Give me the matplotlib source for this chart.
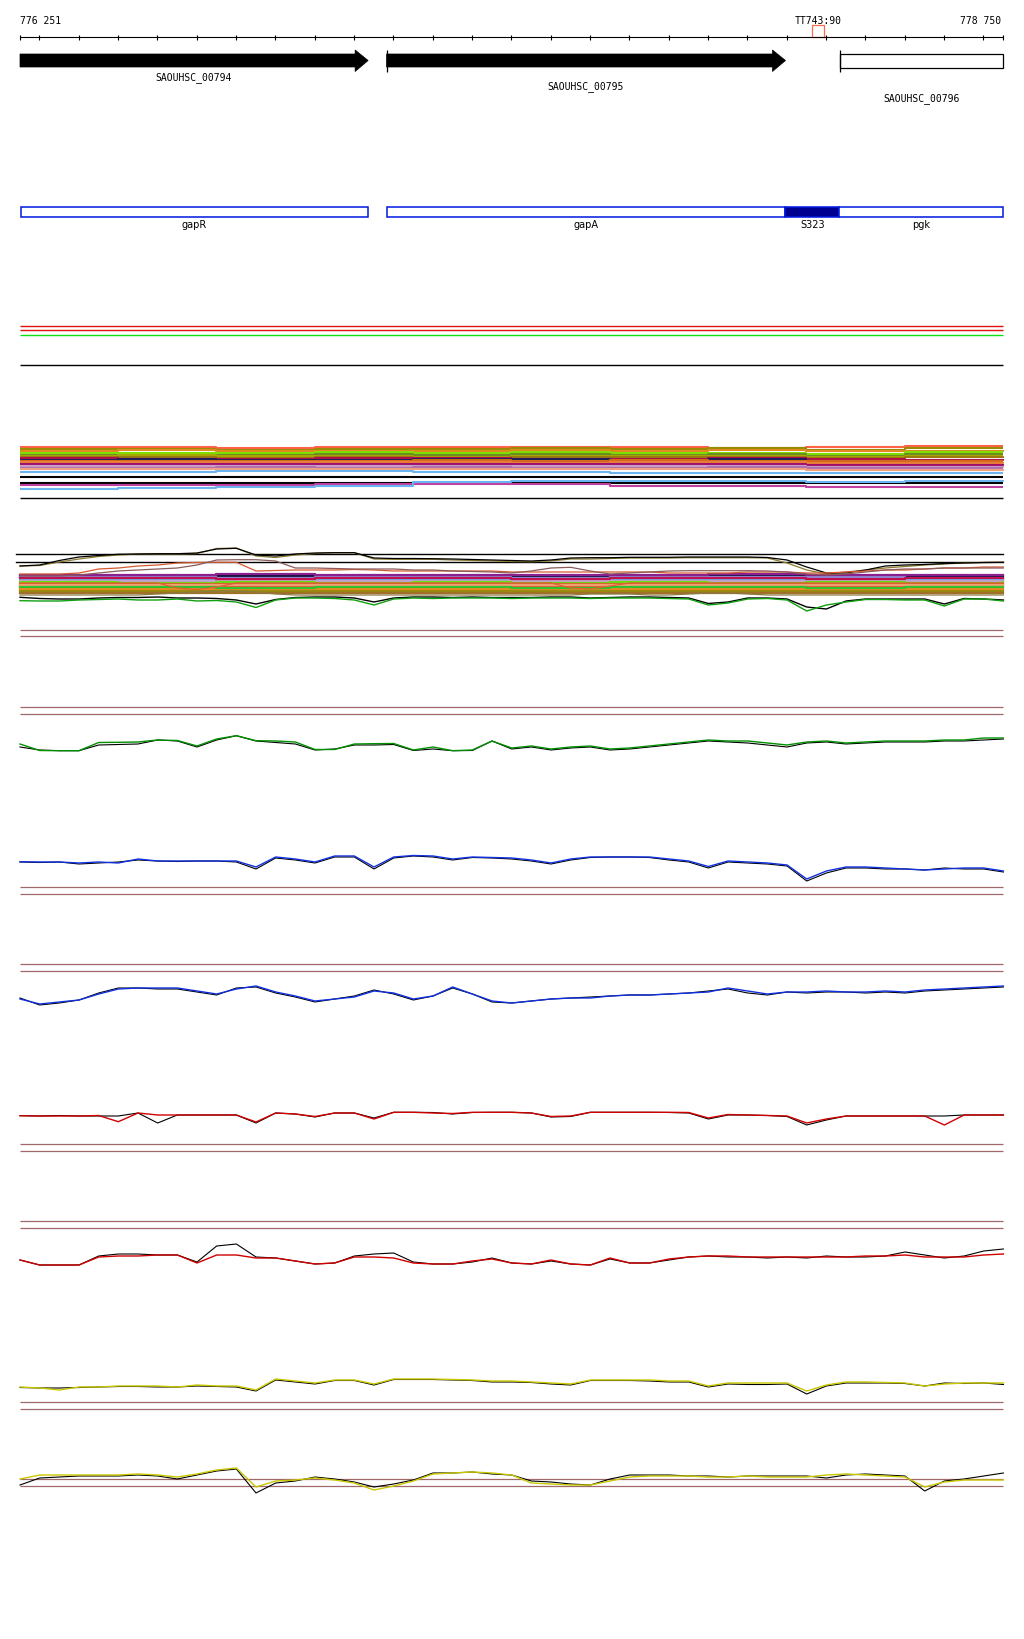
import numpy as np
import matplotlib
matplotlib.use("Agg")
import matplotlib.pyplot as plt
from matplotlib.patches import Rectangle, Polygon

# ---- genomic window -------------------------------------------------------
view_start = 776251
view_end = 778750
ruler_ticks = list(range(776300, 778750, 100))
probe_name = "TT743:90"
probe_pos = 778280

# ---- genes ----------------------------------------------------------------
gene_names = ["SAOUHSC_00794", "SAOUHSC_00795", "SAOUHSC_00796"]
gene_starts = [776251, 777183, 778335]
gene_ends = [777136, 778197, 778750]
gene_filled = [True, True, False]
gene_start_mark = [False, True, True]

# ---- annotation features --------------------------------------------------
feat_names = ["gapR", "gapA", "S323", "pgk"]
feat_starts = [776253, 777185, 778196, 778334]
feat_ends = [777135, 778196, 778334, 778750]
feat_filled = [False, False, True, False]

# ---- dense read band (step levels every 250 bp) ---------------------------
band_pos = [776251, 776500, 776750, 777000, 777250, 777500, 777750,
            778000, 778250, 778500, 778750]
band_colors = ["#ff6347", "#9a8c00", "#e08a20", "#7fe000", "#6b8e23",
               "#a8a800", "#9c7a10", "#b0104a", "#1c1c5c", "#d2691e",
               "#e8803a", "#a0106a", "#c8a0c8", "#b070b0", "#f0a080",
               "#6cb4f0", "#000000", "#000000", "#c040a0", "#6cb4f0"]
band_tomato = [52, 52, 51, 52, 52, 52, 52, 51, 52, 53, 53]
band_olive = [50, 50, 49, 50, 50, 51, 50, 51, 49, 51, 51]
band_orange = [48, 49, 48, 48, 48, 49, 48, 49, 48, 48, 49]
band_lime = [46, 46, 46, 47, 46, 47, 46, 46, 45, 47, 47]
band_drab = [44, 44, 44, 45, 44, 45, 44, 45, 43, 45, 45]
band_yolive = [43, 44, 43, 43, 42, 43, 43, 43, 42, 43, 43]
band_gold = [42, 42, 41, 42, 41, 42, 42, 42, 41, 42, 41]
band_crimson = [41, 40, 40, 41, 41, 40, 40, 41, 40, 39, 40]
band_navy = [39, 40, 39, 39, 40, 40, 39, 40, 38, 36, 36]
band_sienna = [38, 38, 38, 38, 39, 38, 39, 38, 38, 38, 38]
band_lorange = [37, 37, 37, 37, 37, 36, 37, 37, 36, 36, 37]
band_magcrim = [35, 35, 35, 35, 35, 35, 35, 35, 34, 34, 35]
band_lavender = [33, 33, 33, 33, 33, 33, 33, 33, 32, 32, 33]
band_orchid = [31, 31, 32, 31, 32, 31, 31, 32, 31, 31, 31]
band_salmon = [30, 30, 30, 30, 30, 30, 30, 30, 29, 29, 30]
band_lblue = [27, 27, 28, 28, 27, 27, 26, 26, 26, 26, 26]
band_black1 = [22] * 11
band_black2 = [16] * 11
band_magenta = [14, 14, 14, 15, 15, 15, 13, 13, 12, 12, 12]
band_lblue2 = [10, 11, 12, 13, 17, 18, 18, 18, 17, 18, 19]

# ---- multi-sample track (signal sampled every 50 bp) ----------------------
multi_colors = ["#101040", "#8c8cd8", "#6fa8e8", "#c0a0d0", "#66e010",
                "#8a2090", "#d0602a", "#f05030", "#f08a20", "#9a8a10",
                "#a07028", "#f0a070", "#c01050", "#30c030"]
multi_dark = [38.5, 38.5, 38.5, 38.5, 38.5, 38.5, 38.5, 38.5, 38.5, 38.5, 38.5]
multi_lav = [37, 37, 36.5, 37, 37, 36.5, 37, 37, 37, 36.5, 36.5]
multi_corn = [35, 35, 34.5, 35, 34.5, 35, 34.5, 35, 35, 34.5, 34.5]
multi_lavender = [33.5, 33.5, 33, 33.5, 33.5, 33, 33.5, 33, 33.5, 33.5, 33.5]
multi_lime = [32, 31.5, 32, 31, 32, 31.5, 32, 31, 32, 31.5, 32]
multi_purple = [39.5, 39, 40, 39.5, 39, 39.5, 39, 40, 39, 39.5, 39]
multi_sienna = [30.5, 30, 30.5, 30, 30.5, 30, 30.5, 30, 30, 30.5, 30]
multi_tomato = [28.5, 28.5, 28, 28.5, 28.5, 28, 28.5, 28.5, 28, 28.5, 28.5]
multi_orange = [25.5, 25.5, 25, 25.5, 25, 25.5, 25.5, 25, 25.5, 25, 25.5]
multi_olive = [23.5, 23, 23.5, 23.5, 23, 23.5, 23, 23.5, 23.5, 23, 23.5]
multi_brown = [21.5, 21, 21.5, 21.5, 21, 21.5, 21, 21.5, 21.5, 21, 21.5]
multi_salmon = [29.5, 29.5, 29, 29.5, 29.5, 29, 29.5, 29.5, 29, 29.5, 29.5]
multi_crimson = [36, 36, 35.5, 36, 36, 35.5, 36, 36, 35.5, 36, 36]
multi_green = [27, 27, 26.5, 27, 27, 26.5, 27, 27, 26.5, 27, 27]

sig_pos = np.arange(776251, 778752, 50)

multi_flat1 = [60, 60]
multi_flat2 = [52.3, 52.3]
multi_upper_olive = [48, 48.5, 52, 55, 57.5, 59, 60, 60, 60, 60.5, 65.5, 66,
                     58, 56.5, 59, 60.5, 61.3, 61.3, 55, 54.7, 54.7, 54.7, 54,
                     53.5, 53, 52.5, 52.3, 53, 55, 55, 55.5, 56, 56, 56, 56.3,
                     56.3, 56.3, 56.3, 56, 51, 44, 40, 42, 44, 46, 47.5, 49, 50,
                     51, 51.5, 51.7]
multi_upper_black = [48, 49, 53.5, 57, 58.5, 59.7, 60, 60.3, 60.3, 61, 65, 65.7,
                     59, 58, 60, 61, 61.3, 61.3, 56, 55.5, 55.5, 55.3, 55, 54.5,
                     54, 53.5, 53, 54, 56, 56.3, 56.3, 56.7, 56.7, 56.7, 57, 57,
                     57, 57, 56.5, 54, 47, 41, 41, 44, 48, 49, 49.5, 50.5, 51,
                     51.5, 51.7]
multi_sienna_curve = [40, 40, 40, 41, 45, 46, 48, 49, 51, 51.5, 51.7, 51.7, 43,
                      43.5, 44, 44, 44, 44.5, 44, 43, 43, 43, 43, 43, 43, 42,
                      42, 42, 42, 42, 42, 42, 42, 41, 41, 41, 41, 42, 42, 42,
                      41, 41, 42, 43, 44, 44, 45, 46, 46, 47, 47]
multi_brown_curve = [38, 38, 38, 39, 41, 43, 44, 45, 46, 49, 54, 54.3, 54.3, 53,
                     46, 46, 45.5, 45, 45, 45, 44, 44, 43, 42.5, 42, 41, 43, 46,
                     46.7, 43, 40, 41, 42, 43, 43.3, 43.3, 43.3, 43.3, 43, 42,
                     40, 39, 40, 42, 44, 45, 45, 46, 46, 46, 46]
multi_dip_curve = [31, 31, 31, 31, 31, 31, 31, 31, 26, 24.5, 27, 31, 31, 31,
                   31, 31, 31, 31, 31, 31, 31, 31, 31, 31, 31, 31, 31, 31, 26,
                   25, 28, 31, 31, 31, 31, 31, 31, 31, 31, 31, 31, 31, 31, 31,
                   31, 31, 31, 31, 31, 31, 31]
multi_low_olive = [19, 19, 19, 19, 19, 19, 19, 20, 21, 22, 23, 23, 22, 20, 19,
                   19, 19, 19, 19, 19, 19, 19, 19, 19, 19, 19, 19, 19, 19, 20,
                   20, 20, 19, 19, 20, 21, 21, 20, 19, 19, 19, 19, 19, 19, 19,
                   19, 19, 19, 19, 19, 19]
multi_low_black = [16.7, 15.5, 15, 15, 16, 16.5, 16.5, 17, 16, 16, 15.5, 14, 10,
                   14.5, 16.5, 17, 17, 16, 12, 16, 17, 17, 16.5, 17, 16.5,
                   16.5, 16.5, 17, 17, 16, 16.5, 17, 17, 16.5, 16, 10.5, 12, 16,
                   16, 15, 7, 5, 13, 15, 15, 15, 15, 10, 15.5, 15, 14]
multi_low_green = [13.3, 13, 13, 14, 14.5, 15, 14, 14, 15, 13, 13.5, 12, 6.5,
                   14, 16, 16, 15.5, 14, 9, 15, 16, 15.5, 16, 16, 16, 15.5, 16,
                   16, 16, 15.5, 16, 16, 16, 15.5, 15, 9, 11, 15, 15.5, 14, 3,
                   9, 12, 14.5, 14.5, 14, 14, 8, 15, 15, 13]

# ---- single-condition tracks: colour series + black replicate -------------
green_sig = [15, 8.5, 8.3, 8.3, 16.5, 16.7, 17, 19, 18.5, 13, 20, 23.3, 18.3,
             18, 17, 9.5, 9.5, 15, 15.3, 15.5, 9, 12, 8.3, 9, 18, 11, 13, 10,
             12, 13, 10, 11, 13, 15, 17, 19, 18, 18, 16, 14, 17, 18, 16, 17,
             18, 18, 18, 19, 19, 21, 21]
green_ref = [12, 9, 8.3, 8.3, 14, 14.5, 15, 19, 18, 12, 19, 23.3, 18, 16.5, 15,
             9, 10, 14, 14, 14.5, 8.5, 10, 8.3, 8.5, 18, 10, 12, 9, 11, 12, 9,
             10, 12, 14, 16, 18, 17, 16, 14, 12, 16, 17, 15, 16, 17, 17, 17, 18,
             18, 19, 20]
blue1_sig = [27.3, 27, 27, 26, 27, 26, 30, 28, 28, 28, 28, 28, 22, 32, 30, 27,
             33, 33, 22, 32, 33.5, 33, 30, 32, 31.5, 31, 29, 26, 30, 32, 32, 32,
             32, 30, 28, 22.5, 28, 27, 26, 24, 10, 18, 22, 22, 21, 20, 19, 20,
             21, 21, 18]
blue1_ref = [27, 26.5, 27, 25, 26, 27, 29, 28, 27.5, 28, 28, 27, 20, 31, 29, 26,
             32, 32, 20, 31, 33, 32, 29, 31.5, 31, 30, 28, 25, 29, 31.5, 32, 32,
             31.5, 29, 27, 21, 27, 26, 25, 23, 8, 16, 21, 21, 20, 20, 19, 21, 20,
             20, 17]
blue2_sig = [15, 10, 12, 14, 20, 25, 26, 26, 26, 23, 20, 25, 28, 22, 18, 13, 15,
             17, 23, 21, 15, 18, 27, 20, 13, 11, 13, 15, 16, 16, 18, 19, 19, 20,
             21, 22, 26, 23, 20, 22, 22, 23, 22, 22, 23, 22, 24, 25, 26, 27, 28]
blue2_ref = [16, 9, 11, 14, 21, 26, 26, 25, 25, 22, 19, 26, 27, 21, 17, 12, 15,
             18, 24, 20, 14, 18, 26, 20, 12, 11, 13, 15, 16, 17, 18, 19, 19, 20,
             21, 23, 25, 21, 19, 22, 21, 22, 22, 21, 22, 21, 23, 24, 25, 26, 27]
red1_sig = [18.3, 18, 18, 18, 18.5, 12.3, 21, 19, 19, 19, 19, 19, 12, 21, 20,
            17.5, 21, 21, 15, 21.7, 21.7, 21, 20.5, 21.7, 21.7, 21.7, 21, 17.5,
            18, 21.7, 21.7, 21.7, 21.7, 21.7, 21.5, 16, 19.5, 19, 18.5, 18, 11,
            15, 18, 18, 18, 18, 18, 9, 19, 19, 19]
red1_ref = [18.3, 18, 18.5, 18, 18, 18, 21, 11, 19, 19, 19, 19, 11, 21, 20, 17,
            21, 21, 16, 21.7, 21.7, 21.5, 20, 21.5, 21.7, 21.7, 21, 17, 17.5,
            21.7, 21.7, 21.7, 21.7, 21.5, 21, 15, 19, 19, 18.5, 17.5, 9, 14, 18,
            18, 18, 18, 18, 18, 19, 19, 19]
red2_sig = [14, 9, 9, 9, 17, 18, 18, 19, 19, 11, 19, 19, 16, 16, 13, 10, 11, 17,
            17, 16, 11, 10, 10, 13, 15, 11, 10, 14, 10, 9, 16, 11, 11, 15, 17,
            18, 18, 17, 17, 17, 17, 17, 17, 18, 18, 19, 17, 17, 17, 19, 20]
red2_ref = [14, 9, 9, 9, 18, 20, 20, 19, 19, 12, 28, 30, 17, 16, 13, 10, 11, 18,
            20, 21, 12, 10, 10, 12, 16, 11, 10, 13, 10, 9, 15, 11, 11, 14, 17,
            18, 17, 17, 16, 17, 16, 18, 17, 17, 18, 22, 19, 16, 18, 23, 25]
yellow1_sig = [12, 11, 9, 12, 12, 13, 13, 13, 12, 14, 13, 13, 9, 20, 18, 16, 19,
               19, 15, 20, 20, 20, 19.5, 19, 18, 18, 17, 16, 15, 19, 19, 19, 19,
               18, 18, 13, 16, 16, 16, 16, 8, 14, 17, 17, 16.5, 16, 13, 15, 16,
               16, 16]
yellow1_ref = [11.5, 11, 11, 11.5, 12, 12.5, 12.5, 12, 12, 13, 12.5, 12, 8, 19,
               17, 15, 18.5, 18.5, 14, 19.5, 19.5, 19.5, 19, 18.5, 17, 17, 16.5,
               15, 14, 18.5, 18.5, 18.5, 18, 17, 17, 12, 15, 14.5, 14.5, 15, 5,
               13, 16, 16, 16, 15.5, 13, 16, 15.5, 16, 14.5]
yellow2_sig = [20, 24, 24, 24, 24, 24, 25, 24, 22, 25, 29, 31, 12, 18, 19, 21,
               19, 16, 9, 13, 18, 25, 26, 27, 26, 24, 16, 15, 14, 14, 18, 22, 23,
               23, 23, 22, 22, 23, 22, 22, 22, 24, 25, 24, 23, 22, 12, 17, 19,
               19, 19]
yellow2_ref = [14, 21, 22, 23, 23, 23, 24, 23, 20, 24, 28, 30, 6, 16, 18, 22,
               20, 17, 12, 15, 19, 26, 26, 27, 25, 24, 18, 17, 15, 14, 20, 24, 24,
               24, 23, 23, 22, 23, 23, 23, 23, 21, 24, 25, 24, 23, 8, 18, 20, 23,
               26]

# ---- layout (pixel rows of the 1024 x 1640 canvas) ------------------------
W, H = 1024, 1640
BP_PER_PX = (view_end - view_start) / 983.0
XMIN = view_start - 20 * BP_PER_PX
XMAX = XMIN + W * BP_PER_PX
MONO = "DejaVu Sans Mono"

fig = plt.figure(figsize=(W / 100, H / 100), dpi=100)


def canvas(top, bottom):
    ax = fig.add_axes([0, 1 - bottom / H, 1, (bottom - top) / H])
    ax.set_xlim(XMIN, XMAX)
    ax.set_ylim(bottom, top)
    ax.axis("off")
    return ax


def value_axes(bottom, height):
    ax = fig.add_axes([0, 1 - bottom / H, 1, height / H])
    ax.set_xlim(XMIN, XMAX)
    ax.set_ylim(0, height)
    ax.axis("off")
    return ax


# header: ruler, genes, annotation
hd = canvas(0, 240)
hd.hlines(38, view_start, view_end, color="black", lw=0.8)
hd.vlines(ruler_ticks + [view_start, view_end], 35.8, 40.5, color="black", lw=0.8)
hd.text(view_start, 24, "776 251", ha="left", va="baseline", family=MONO, size=7)
hd.text(view_end - 5, 24, "778 750", ha="right", va="baseline", family=MONO, size=7)
hd.text(probe_pos, 24, probe_name, ha="center", va="baseline", family=MONO, size=7)
hd.add_patch(Rectangle((probe_pos - 6 * BP_PER_PX, 26), 12 * BP_PER_PX, 12.3,
                       fill=False, edgecolor="#ff6a4a", lw=0.9))

head = 13 * BP_PER_PX
label_rows = [80, 89, 101.5]
for name, s, e, filled, mark, lr in zip(gene_names, gene_starts, gene_ends,
                                        gene_filled, gene_start_mark, label_rows):
    if filled:
        xs = [s, e - head, e - head, e, e - head, e - head, s]
        ys = [55, 55, 51, 61.5, 72.5, 68, 68]
        hd.add_patch(Polygon(list(zip(xs, ys)), closed=True, facecolor="black",
                             edgecolor="black", lw=0.5))
    else:
        hd.add_patch(Rectangle((s, 55), e - s, 13.5, facecolor="white",
                               edgecolor="black", lw=0.9))
    if mark:
        hd.vlines(s, 51, 72.5, color="black", lw=0.9)
    hd.text((s + e) / 2, lr, name, ha="center", va="baseline", family=MONO, size=7)

for name, s, e, filled in zip(feat_names, feat_starts, feat_ends, feat_filled):
    hd.add_patch(Rectangle((s, 207.5), e - s, 10,
                           facecolor="#000090" if filled else "white",
                           edgecolor="#0018e0", lw=1.1))
    hd.text((s + e) / 2, 227.5, name, ha="center", va="baseline", size=7)

# separators and flat tracks
sep = canvas(240, H)
sep.hlines([326.7, 331], view_start, view_end, color="#e01010", lw=1.0)
sep.hlines(336, view_start, view_end, color="#10e010", lw=1.0)
sep.hlines([366, 499.3], view_start, view_end, color="black", lw=1.0)
brown_rows = [631, 637.3, 708.3, 715.3, 888.3, 895.3, 965, 972,
              1145, 1152.3, 1222.3, 1229.3, 1403.3, 1410.3, 1480, 1487.3]
sep.hlines(brown_rows, view_start, view_end, color="#a06868", lw=0.9)

# dense read band
bd = value_axes(500, 60)
band_series = [band_tomato, band_olive, band_orange, band_lime, band_drab,
               band_yolive, band_gold, band_crimson, band_navy, band_sienna,
               band_lorange, band_magcrim, band_lavender, band_orchid,
               band_salmon, band_lblue, band_black1, band_black2,
               band_magenta, band_lblue2]
for vals, col in zip(band_series, band_colors):
    bd.step(band_pos, vals, where="post", color=col, lw=1.5,
            solid_capstyle="butt")

# multi-sample track
mt = value_axes(615, 75)
mt.plot([view_start - 10, view_end], multi_flat1, color="black", lw=1.0)
mt.plot([view_start - 10, view_end], multi_flat2, color="black", lw=1.0)
multi_series = [multi_dark, multi_lav, multi_corn, multi_lavender, multi_lime,
                multi_purple, multi_sienna, multi_tomato, multi_orange,
                multi_olive, multi_brown, multi_salmon, multi_crimson,
                multi_green]
for vals, col in zip(multi_series, multi_colors):
    mt.step(band_pos, vals, where="post", color=col, lw=1.6)
mt.plot(sig_pos, multi_upper_olive, color="#8b7a30", lw=0.9)
mt.plot(sig_pos, multi_upper_black, color="black", lw=0.9)
mt.plot(sig_pos, multi_sienna_curve, color="#d85a30", lw=0.9)
mt.plot(sig_pos, multi_brown_curve, color="#8b5a5a", lw=0.9)
mt.plot(sig_pos, multi_dip_curve, color="#e06030", lw=0.9)
mt.plot(sig_pos, multi_low_olive, color="#8b7a40", lw=0.9)
mt.plot(sig_pos, multi_low_black, color="black", lw=1.0)
mt.plot(sig_pos, multi_low_green, color="#10a010", lw=1.0)

# line tracks: (bottom row, height, colour, signal, replicate)
line_tracks = [
    (760, 40, "#009000", green_sig, green_ref),
    (890, 45, "#1030e0", blue1_sig, blue1_ref),
    (1015, 45, "#1030e0", blue2_sig, blue2_ref),
    (1135, 35, "#d00000", red1_sig, red1_ref),
    (1275, 45, "#d00000", red2_sig, red2_ref),
    (1400, 35, "#c8c800", yellow1_sig, yellow1_ref),
    (1500, 45, "#c8c800", yellow2_sig, yellow2_ref),
]
for bottom, height, col, sig, ref in line_tracks:
    ax = value_axes(bottom, height)
    ax.plot(sig_pos, ref, color="black", lw=0.8)
    ax.plot(sig_pos, sig, color=col, lw=1.0)

fig.savefig("out.png", dpi=100)
